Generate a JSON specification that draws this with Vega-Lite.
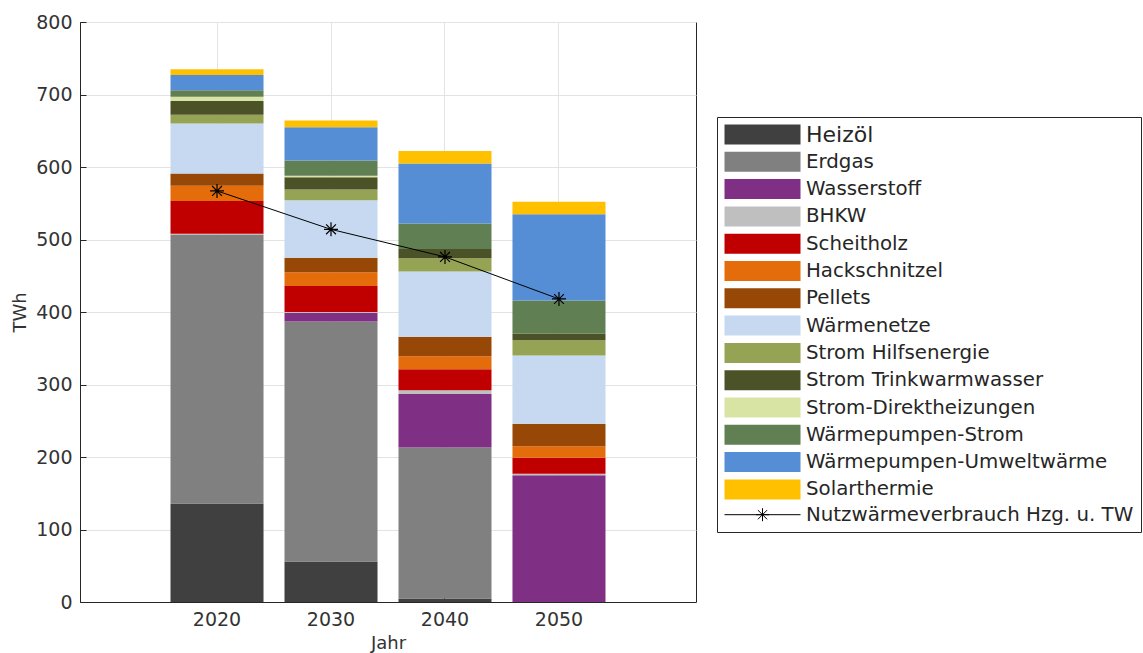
{
  "$schema": "https://vega.github.io/schema/vega-lite/v6.json",
  "width": 616,
  "height": 580,
  "autosize": {"type": "none"},
  "padding": {"left": 80, "top": 22, "right": 447, "bottom": 51},
  "background": "white",
  "config": {
    "font": "DejaVu Sans",
    "view": {"stroke": "#262626", "strokeWidth": 1},
    "axis": {
      "labelFont": "DejaVu Sans",
      "titleFont": "DejaVu Sans",
      "labelFontSize": 19,
      "titleFontSize": 18,
      "titleFontWeight": "normal",
      "labelColor": "#333333",
      "titleColor": "#333333",
      "domainColor": "#262626",
      "gridColor": "#e3e3e3",
      "tickColor": "#262626",
      "ticks": true,
      "tickSize": -6
    },
    "legend": {
      "labelFont": "DejaVu Sans",
      "labelFontSize": 19.8,
      "labelColor": "#262626"
    }
  },
  "datasets": {
    "bars": [
      {"year": "2020", "source": "Heizöl", "value": 136},
      {"year": "2020", "source": "Erdgas", "value": 371},
      {"year": "2020", "source": "Wasserstoff", "value": 0},
      {"year": "2020", "source": "BHKW", "value": 1},
      {"year": "2020", "source": "Scheitholz", "value": 45},
      {"year": "2020", "source": "Hackschnitzel", "value": 21},
      {"year": "2020", "source": "Pellets", "value": 17},
      {"year": "2020", "source": "Wärmenetze", "value": 69},
      {"year": "2020", "source": "Strom Hilfsenergie", "value": 12},
      {"year": "2020", "source": "Strom Trinkwarmwasser", "value": 19},
      {"year": "2020", "source": "Strom-Direktheizungen", "value": 6},
      {"year": "2020", "source": "Wärmepumpen-Strom", "value": 9},
      {"year": "2020", "source": "Wärmepumpen-Umweltwärme", "value": 21},
      {"year": "2020", "source": "Solarthermie", "value": 8},
      {"year": "2030", "source": "Heizöl", "value": 56},
      {"year": "2030", "source": "Erdgas", "value": 331},
      {"year": "2030", "source": "Wasserstoff", "value": 12},
      {"year": "2030", "source": "BHKW", "value": 1},
      {"year": "2030", "source": "Scheitholz", "value": 36},
      {"year": "2030", "source": "Hackschnitzel", "value": 19},
      {"year": "2030", "source": "Pellets", "value": 20},
      {"year": "2030", "source": "Wärmenetze", "value": 79},
      {"year": "2030", "source": "Strom Hilfsenergie", "value": 15},
      {"year": "2030", "source": "Strom Trinkwarmwasser", "value": 17},
      {"year": "2030", "source": "Strom-Direktheizungen", "value": 2},
      {"year": "2030", "source": "Wärmepumpen-Strom", "value": 21},
      {"year": "2030", "source": "Wärmepumpen-Umweltwärme", "value": 46},
      {"year": "2030", "source": "Solarthermie", "value": 9},
      {"year": "2040", "source": "Heizöl", "value": 5},
      {"year": "2040", "source": "Erdgas", "value": 208},
      {"year": "2040", "source": "Wasserstoff", "value": 74},
      {"year": "2040", "source": "BHKW", "value": 5},
      {"year": "2040", "source": "Scheitholz", "value": 29},
      {"year": "2040", "source": "Hackschnitzel", "value": 18},
      {"year": "2040", "source": "Pellets", "value": 27},
      {"year": "2040", "source": "Wärmenetze", "value": 90},
      {"year": "2040", "source": "Strom Hilfsenergie", "value": 18},
      {"year": "2040", "source": "Strom Trinkwarmwasser", "value": 13},
      {"year": "2040", "source": "Strom-Direktheizungen", "value": 0},
      {"year": "2040", "source": "Wärmepumpen-Strom", "value": 35},
      {"year": "2040", "source": "Wärmepumpen-Umweltwärme", "value": 83},
      {"year": "2040", "source": "Solarthermie", "value": 17},
      {"year": "2050", "source": "Heizöl", "value": 0},
      {"year": "2050", "source": "Erdgas", "value": 0},
      {"year": "2050", "source": "Wasserstoff", "value": 175},
      {"year": "2050", "source": "BHKW", "value": 2},
      {"year": "2050", "source": "Scheitholz", "value": 22},
      {"year": "2050", "source": "Hackschnitzel", "value": 16},
      {"year": "2050", "source": "Pellets", "value": 31},
      {"year": "2050", "source": "Wärmenetze", "value": 94},
      {"year": "2050", "source": "Strom Hilfsenergie", "value": 21},
      {"year": "2050", "source": "Strom Trinkwarmwasser", "value": 9},
      {"year": "2050", "source": "Strom-Direktheizungen", "value": 0},
      {"year": "2050", "source": "Wärmepumpen-Strom", "value": 46},
      {"year": "2050", "source": "Wärmepumpen-Umweltwärme", "value": 119},
      {"year": "2050", "source": "Solarthermie", "value": 17}
    ],
    "line": [
      {"year": "2020", "value": 567},
      {"year": "2030", "value": 514},
      {"year": "2040", "value": 476},
      {"year": "2050", "value": 418}
    ]
  },
  "encoding": {
    "x": {
      "field": "year",
      "type": "nominal",
      "scale": {"paddingInner": 0.184, "paddingOuter": 0.794},
      "axis": {"labelAngle": 0, "title": "Jahr", "grid": true, "bandPosition": 0.5, "labelPadding": 14, "titlePadding": 5}
    }
  },
  "layer": [
    {
      "data": {"name": "bars"},
      "transform": [
        {"calculate": "indexof(['Heizöl', 'Erdgas', 'Wasserstoff', 'BHKW', 'Scheitholz', 'Hackschnitzel', 'Pellets', 'Wärmenetze', 'Strom Hilfsenergie', 'Strom Trinkwarmwasser', 'Strom-Direktheizungen', 'Wärmepumpen-Strom', 'Wärmepumpen-Umweltwärme', 'Solarthermie'], datum.source)", "as": "stackIndex"}
      ],
      "mark": {"type": "bar"},
      "encoding": {
        "y": {
          "field": "value",
          "type": "quantitative",
          "stack": "zero",
          "scale": {"domain": [0, 800], "nice": false},
          "axis": {"title": "TWh", "values": [0, 100, 200, 300, 400, 500, 600, 700, 800], "grid": true, "labelPadding": 14, "titlePadding": 6}
        },
        "order": {"field": "stackIndex", "type": "quantitative", "sort": "ascending"},
        "color": {
          "field": "source",
          "type": "nominal",
          "scale": {
            "domain": ["Heizöl", "Erdgas", "Wasserstoff", "BHKW", "Scheitholz", "Hackschnitzel", "Pellets", "Wärmenetze", "Strom Hilfsenergie", "Strom Trinkwarmwasser", "Strom-Direktheizungen", "Wärmepumpen-Strom", "Wärmepumpen-Umweltwärme", "Solarthermie", "Nutzwärmeverbrauch Hzg. u. TW"],
            "range": ["#404040", "#808080", "#7f3084", "#bfbfbf", "#c00000", "#e46c0a", "#974706", "#c6d9f0", "#95a354", "#4c5227", "#d7e4a3", "#607f52", "#558ed5", "#ffc000", "#000000"]
          },
          "legend": {
            "title": null,
            "orient": "none",
            "legendX": 637,
            "legendY": 95,
            "padding": 7,
            "strokeColor": "#262626",
            "fillColor": "white",
            "symbolType": "M-3.8,-1H3.8V1H-3.8Z",
            "symbolSize": 400,
            "symbolOffset": 28,
            "symbolStrokeWidth": 0,
            "symbolOpacity": 1,
            "labelOffset": 33,
            "labelLimit": 500,
            "rowPadding": 2.3,
            "encode": {
              "symbols": {
                "update": {
                  "shape": {"signal": "datum.value === 'Nutzwärmeverbrauch Hzg. u. TW' ? 'M-3.8,0H3.8M0,-0.65V0.65M-0.65,0H0.65M-0.46,-0.46L0.46,0.46M-0.46,0.46L0.46,-0.46' : 'M-3.8,-1H3.8V1H-3.8Z'"},
                  "fill": {"signal": "datum.value === 'Nutzwärmeverbrauch Hzg. u. TW' ? 'transparent' : scale('color', datum.value)"},
                  "stroke": {"signal": "datum.value === 'Nutzwärmeverbrauch Hzg. u. TW' ? '#000000' : 'transparent'"},
                  "strokeWidth": {"value": 1}
                }
              },
              "labels": {
                "update": {
                  "fontSize": {"signal": "datum.value === 'Heizöl' ? 22 : 19.8"}
                }
              }
            }
          }
        }
      }
    },
    {
      "data": {"name": "line"},
      "mark": {"type": "line", "color": "#000000", "strokeWidth": 1},
      "encoding": {
        "y": {"field": "value", "type": "quantitative"}
      }
    },
    {
      "data": {"name": "line"},
      "mark": {"type": "point", "shape": "M-1,0H1M0,-1V1M-0.7,-0.7L0.7,0.7M-0.7,0.7L0.7,-0.7", "size": 196, "filled": false, "color": "#000000", "strokeWidth": 1.2, "opacity": 1},
      "encoding": {
        "y": {"field": "value", "type": "quantitative"}
      }
    }
  ]
}
